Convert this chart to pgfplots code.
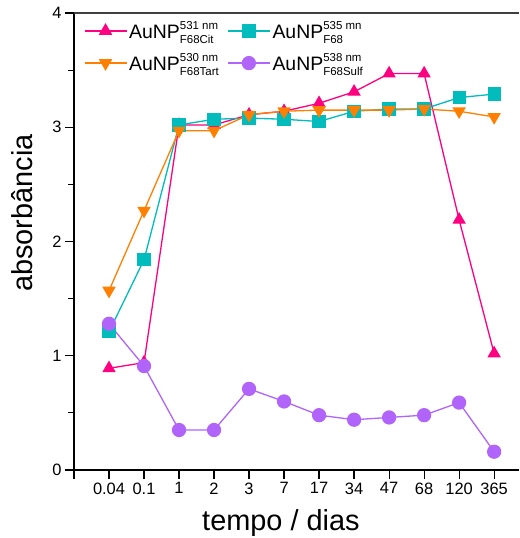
\documentclass[border=0pt]{standalone}
\usepackage{fontspec}
\setmainfont{Liberation Sans}
\usepackage{amsmath}
\usepackage{pgfplots}
\pgfplotsset{compat=1.18}
\DeclareMathSizes{19.5}{19.5}{11.5}{9}
\definecolor{cit}{RGB}{255,0,128}
\definecolor{plain}{RGB}{0,188,188}
\definecolor{tart}{RGB}{255,128,0}
\definecolor{sulf}{RGB}{176,100,250}

\begin{document}
\begin{tikzpicture}
\begin{axis}[
    scale only axis,
    width=445bp, height=457bp,
    xmin=0, xmax=12.71,
    ymin=0, ymax=4,
    axis x line*=bottom,
    axis y line*=left,
    axis line style={black, line width=1.6bp},
    tick align=outside,
    major tick length=9bp,
    minor tick length=6bp,
    tick style={black, line width=1.2bp},
    xtick={0,...,12},
    xticklabels={{},0.04,0.1,1,2,3,7,17,34,47,68,120,365},
    ytick={0,...,4},
    minor y tick num=1,
    /pgf/number format/assume math mode=true,
    ticklabel style={font=\fontsize{16.5}{18}\selectfont},
    xlabel={tempo / dias},
    ylabel={absorbância},
    label style={font=\fontsize{29}{32}\selectfont},
    xlabel style={at={(axis description cs:0.465,0)}, anchor=base, yshift=-60bp},
    ylabel style={at={(axis description cs:0,0.562)}, anchor=south, inner sep=0pt, yshift=41bp},
    legend style={draw=none, fill=none,
      at={(axis description cs:0.015,0.99)}, anchor=north west,
      legend columns=2,
      font=\fontsize{19.5}{21}\selectfont,
      cells={anchor=west},
      /tikz/every even column/.append style={column sep=6bp},
      row sep=10bp},
    legend image code/.code={%
      \draw[mark repeat=2, mark phase=2] plot coordinates {(0bp,0bp) (21bp,0bp) (42bp,0bp)};},
    every axis plot/.append style={line width=1.3bp},
]

% AuNP F68Cit
\addplot[cit, mark=triangle*, mark size=6.5, mark options={solid}]
  coordinates {(1,0.89) (2,0.94) (3,3.02) (4,3.02) (5,3.11) (6,3.14) (7,3.21) (8,3.31) (9,3.47) (10,3.47) (11,2.19) (12,1.02)};
\addlegendentry{$\text{AuNP}^{\text{531 nm}}_{\text{F68Cit}}$}

% AuNP F68
\addplot[plain, mark=square*, mark size=6, mark options={solid}]
  coordinates {(1,1.21) (2,1.84) (3,3.02) (4,3.07) (5,3.08) (6,3.07) (7,3.05) (8,3.14) (9,3.16) (10,3.16) (11,3.26) (12,3.29)};
\addlegendentry{$\text{AuNP}^{\text{535 mn}}_{\text{F68}}$}

% AuNP F68Tart
\addplot[tart, mark=triangle*, mark size=6.5, mark options={solid, rotate=180}]
  coordinates {(1,1.57) (2,2.27) (3,2.97) (4,2.97) (5,3.11) (6,3.14) (7,3.15) (8,3.15) (9,3.15) (10,3.16) (11,3.14) (12,3.09)};
\addlegendentry{$\text{AuNP}^{\text{530 nm}}_{\text{F68Tart}}$}

% AuNP F68Sulf
\addplot[sulf, mark=*, mark size=6.5, mark options={solid}]
  coordinates {(1,1.28) (2,0.91) (3,0.35) (4,0.35) (5,0.71) (6,0.60) (7,0.48) (8,0.44) (9,0.46) (10,0.48) (11,0.59) (12,0.16)};
\addlegendentry{$\text{AuNP}^{\text{538 nm}}_{\text{F68Sulf}}$}

\draw[black!75, line width=1.6bp] (rel axis cs:0,1) -- (rel axis cs:1,1);
\coordinate (O) at (rel axis cs:0,0);
\end{axis}
\pgfresetboundingbox
\path[use as bounding box] (O) ++(-74bp,-68bp) rectangle ++(520bp,538bp);
\end{tikzpicture}
\end{document}
